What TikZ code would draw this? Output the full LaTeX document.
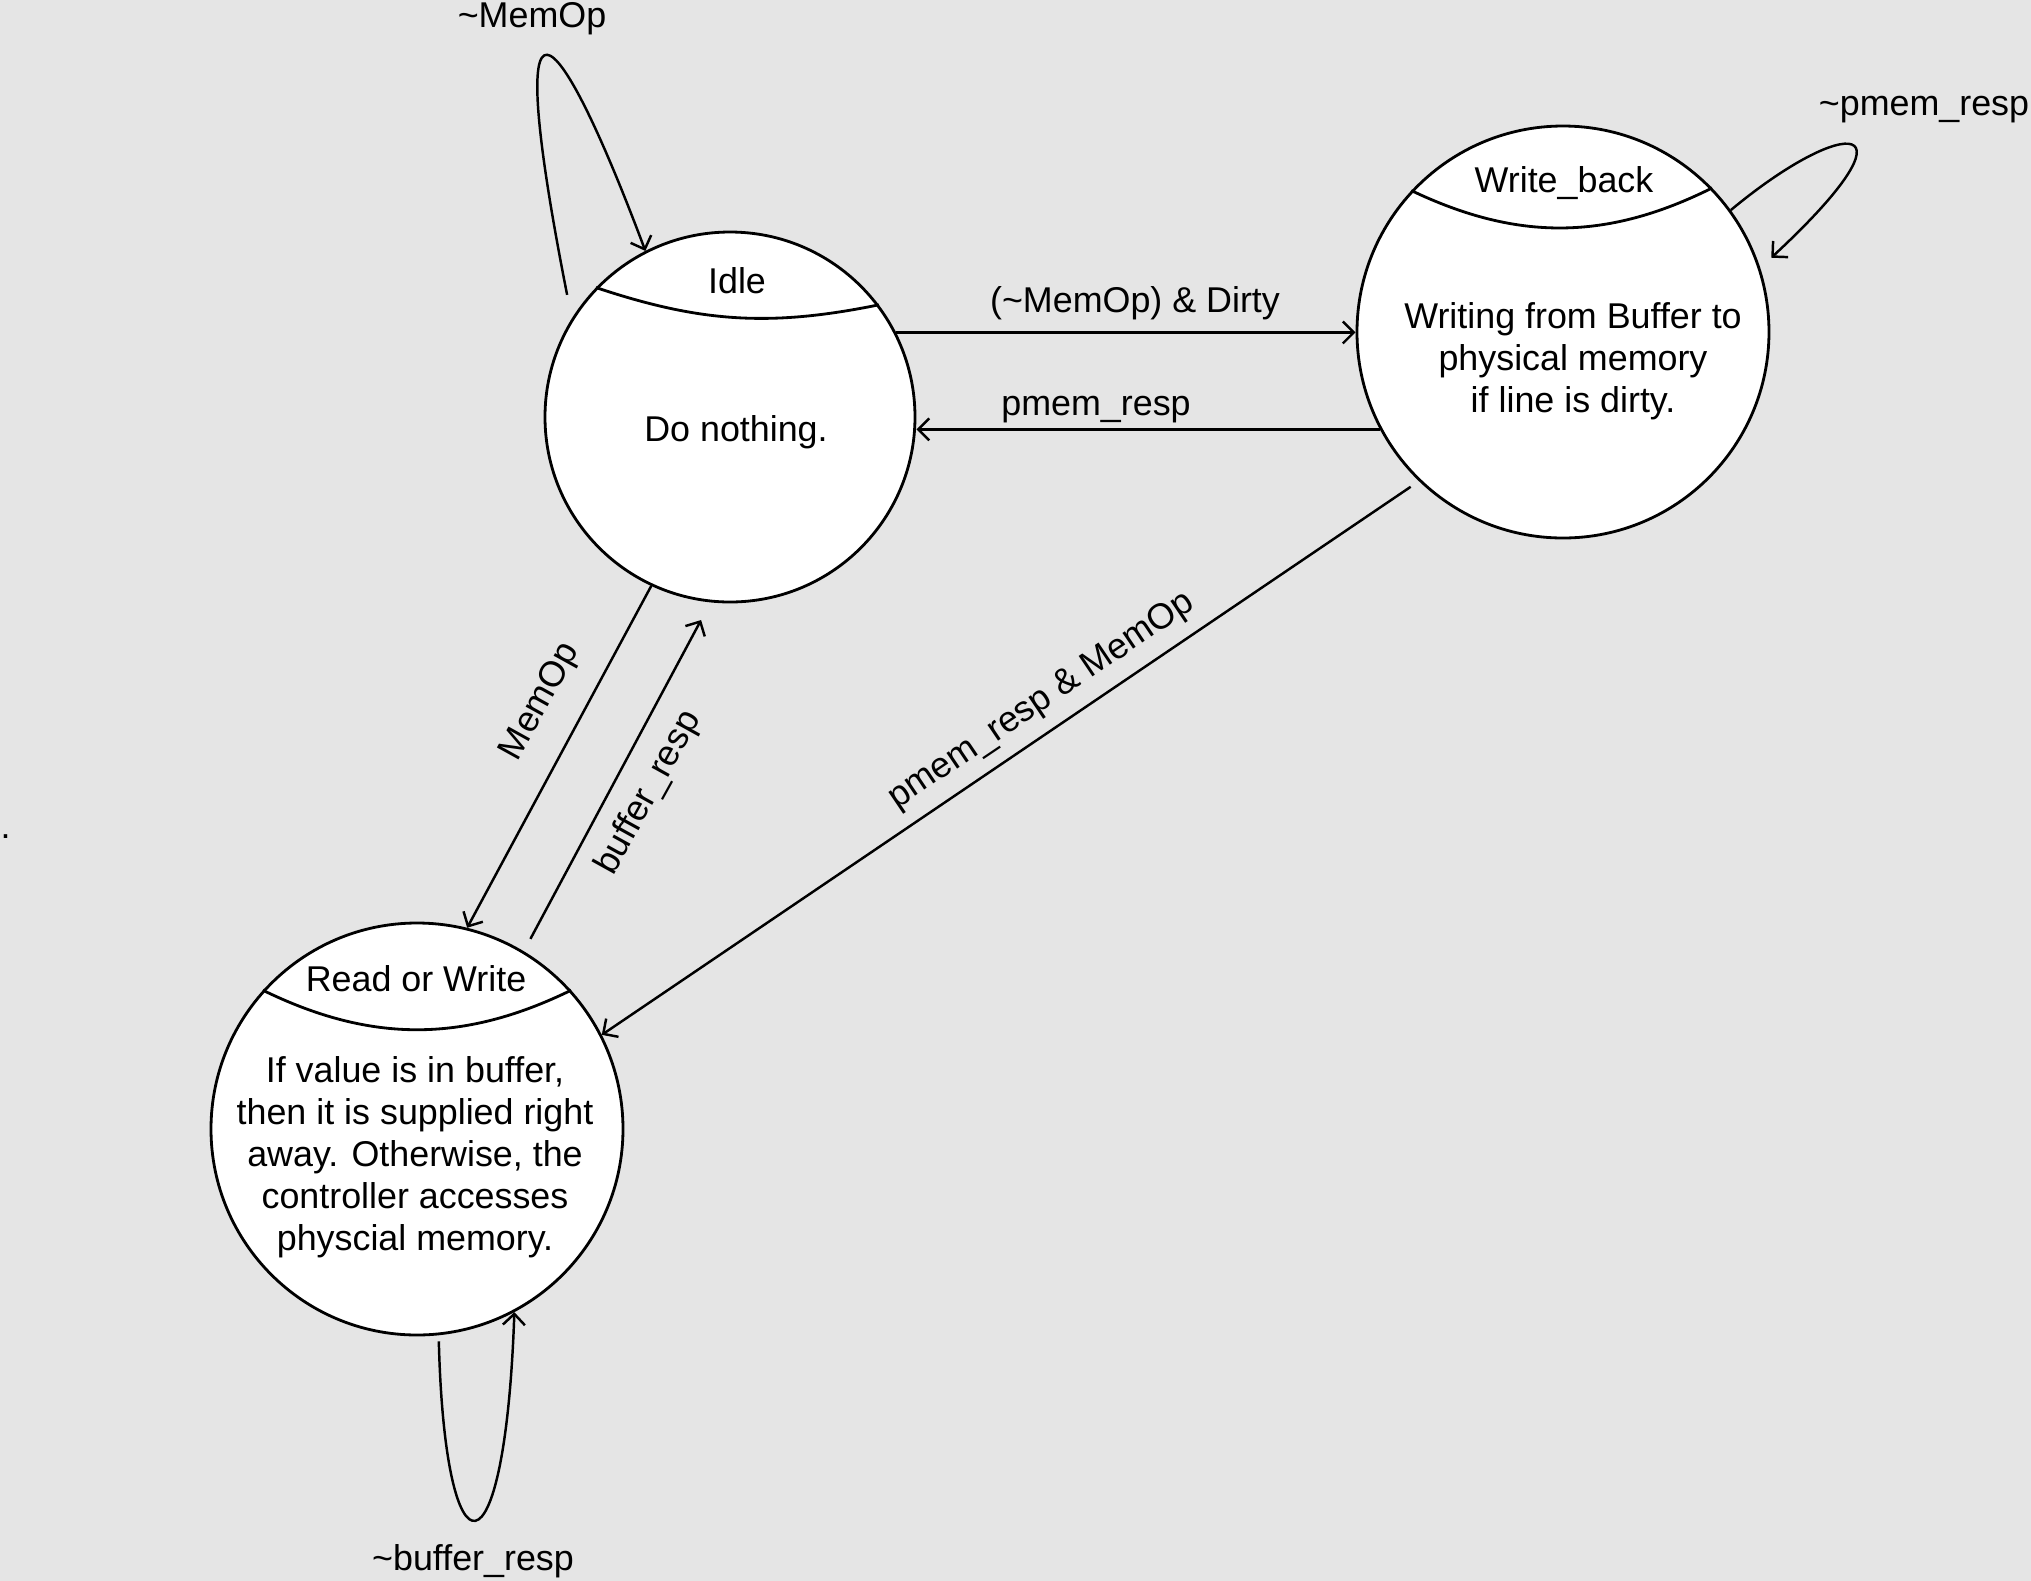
\documentclass[tikz,border=0pt]{standalone}
\usepackage{fontspec}
\setmainfont{Liberation Sans}
\usetikzlibrary{arrows.meta}
\definecolor{CanvasGray}{RGB}{229,229,229}

\begin{document}
\begin{tikzpicture}[
    font=\fontsize{10.2}{11.95}\selectfont,
    state/.style={
        draw,
        circle,
        line width=0.8pt,
        fill=white,
        inner sep=0pt
    },
    head/.style={
        anchor=base,
        inner sep=0pt
    },
    body/.style={
        align=center,
        inner sep=0pt
    },
    divider/.style={
        line width=0.8pt
    },
    arrow/.style={
        -{Straight Barb[length=1.1mm,width=2.2mm]},
        line width=0.7pt
    }
]

% canvas
\useasboundingbox (0,0) rectangle (20.31,-15.81);
\fill[CanvasGray] (0,0) rectangle (20.31,-15.81);

% =========================
% states
% =========================
\node[state, minimum size=3.70cm] (idle) at (7.30,-4.17) {};
\node[state, minimum size=4.12cm] (wback) at (15.63,-3.32) {};
\node[state, minimum size=4.12cm] (rdwr) at (4.17,-11.29) {};

\draw[divider] (idle.136) to[bend right=15] (idle.37);
\draw[divider] (wback.137) to[bend right=26] (wback.44);
\draw[divider] (rdwr.138) to[bend right=26] (rdwr.42);

\node[head] (idlehead) at (7.37,-2.93) {Idle};
\node[head] (wbackhead) at (15.64,-1.92) {Write\_back};
\node[head] (rdwrhead) at (4.16,-9.91) {Read or Write};

\node[head] (idlebody) at (7.36,-4.41) {Do nothing.};
\node[body] (wbackbody) at (15.73,-3.61) {Writing from Buffer to\\physical memory\\if line is dirty.};
\node[body] (rdwrbody) at (4.15,-11.57) {If value is in buffer,\\then it is supplied right\\away. Otherwise, the\\controller accesses\\physcial memory.};

% =========================
% transitions
% =========================
\draw[arrow] ([shift={(-0.14,0.10)}]idle.143) .. controls (5.00,0.45) and (5.55,-0.10) .. (idle.117);
\draw[arrow, shorten >=0.15cm] (wback.36) .. controls (18.45,-1.15) and (19.25,-1.15) .. (wback.18);
\draw[arrow, shorten <=0.06cm] (rdwr.276) .. controls (4.45,-15.85) and (5.05,-15.85) .. (rdwr.298);

\draw[arrow] (idle.27) -- (idle.27 -| wback.west);
\draw[arrow] (wback.208) -- (wback.208 -| idle.east);
\draw[arrow] (idle.245) -- (rdwr.76);
\draw[arrow, shorten <=0.14cm, shorten >=0.2cm] (rdwr.59) -- (idle.264);
\draw[arrow, shorten <=0.1cm] (wback.226) -- (rdwr.27);

% labels
\node[head] (lnotmemop) at (5.32,-0.27) {\textasciitilde MemOp};
\node[head] (lnotpmem) at (19.24,-1.15) {\textasciitilde pmem\_resp};
\node[head] (lnotbuf) at (4.73,-15.70) {\textasciitilde buffer\_resp};
\node[head] (ldirty) at (11.35,-3.12) {(\textasciitilde MemOp) \& Dirty};
\node[head] (lpmem) at (10.96,-4.15) {pmem\_resp};
\node[rotate=61, inner sep=0pt] (lmemop) at (5.41,-7.02) {MemOp};
\node[rotate=61, inner sep=0pt] (lbufresp) at (6.49,-7.93) {buffer\_resp};
\node[rotate=34, inner sep=0pt] (lpmemop) at (10.42,-7.01) {pmem\_resp \& MemOp};

\node[anchor=base west, inner sep=0pt] (dot) at (0.00,-8.38) {.};

\end{tikzpicture}
\end{document}
